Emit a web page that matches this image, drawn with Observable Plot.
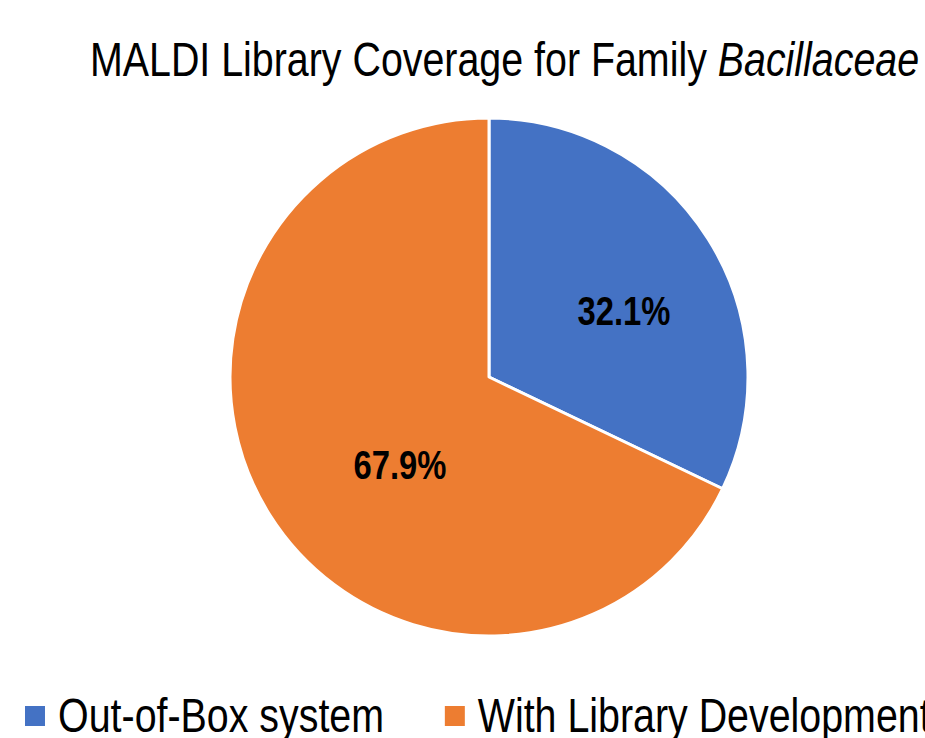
<!DOCTYPE html>
<html><head><meta charset="utf-8">
<script src="https://cdn.jsdelivr.net/npm/d3@7"></script>
<script src="https://cdn.jsdelivr.net/npm/@observablehq/plot@0.6"></script>
<style>
html,body{margin:0;padding:0;background:#fff;}
#wrap{position:relative;width:925px;height:738px;overflow:hidden;font-family:"Liberation Sans",Arial,sans-serif;color:#000;}
#title{position:absolute;left:90px;top:36px;font-size:48px;line-height:48px;white-space:nowrap;transform:scaleX(0.82);transform-origin:0 0;}
#chart{position:absolute;left:0;top:100px;}
#legend{position:absolute;left:25px;top:692px;width:1600px;transform:scaleX(0.82);transform-origin:0 0;}
#legend .lg-swatches{font-family:"Liberation Sans",Arial,sans-serif;font-size:48px;line-height:48px;margin:0;flex-wrap:nowrap;white-space:nowrap;color:#000;}
#legend .lg-swatch{margin-right:74px;}
#legend .lg-swatch > svg{margin-right:16px;}
</style>
</head><body>
<div id="wrap">
  <div id="title">MALDI Library Coverage for Family <i>Bacillaceae</i></div>
  <div id="chart"></div>
  <div id="legend"></div>
</div>
<script>
// ---- data ----
const categories = ["Out-of-Box system", "With Library Development"];
const shares = [32.1, 67.9];
const shareLabels = ["32.1%", "67.9%"];
const colors = ["#4472C4", "#ED7D31"];

const rows = categories.map((c, i) => ({cat: c, value: shares[i], label: shareLabels[i]}));

// ---- geometry (style, not data) ----
const W = 925, H = 560;
const cx = 489, cy = 277, R = 259;
const labelNudge = [[14, 11], [31, 13]];
const NARROW = 0.82;

const colorScale = Plot.scale({color: {type: "categorical", domain: categories, range: colors}});

const slices = d3.pie().value(d => d.value).sort(null)(rows);
const arc = d3.arc().innerRadius(0).outerRadius(R);
const labelArc = d3.arc().innerRadius(R * 0.55).outerRadius(R * 0.55);

slices.forEach((s, i) => {
  const [lx, ly] = labelArc.centroid(s);
  s.lx = cx + lx + labelNudge[i][0];
  s.ly = cy + ly + labelNudge[i][1];
});

function pieMark(index, scales, values, dimensions, context) {
  const g = d3.create("svg:g").attr("transform", `translate(${cx},${cy})`);
  g.selectAll("path")
    .data(slices)
    .join("path")
    .attr("d", arc)
    .attr("fill", d => colorScale.apply(d.data.cat))
    .attr("stroke", "#fff")
    .attr("stroke-width", 3)
    .attr("stroke-linejoin", "round");
  return g.node();
}

const plot = Plot.plot({
  width: W,
  height: H,
  margin: 0,
  x: {type: "identity", axis: null},
  y: {type: "identity", axis: null},
  style: {background: "transparent", overflow: "visible"},
  marks: [
    pieMark,
    Plot.text(slices, {
      x: d => d.lx,
      y: d => d.ly,
      text: d => d.data.label,
      fill: "#000",
      fontSize: 40,
      fontWeight: "bold",
      fontFamily: "'Liberation Sans',Arial,sans-serif",
      textAnchor: "middle",
      render(index, scales, values, dimensions, context, next) {
        const g = next(index, scales, values, dimensions, context);
        d3.select(g).selectAll("text").attr("transform", function() {
          const t = this.getAttribute("transform") || "";
          return `${t} scale(${NARROW},1)`;
        });
        return g;
      }
    })
  ]
});
document.getElementById("chart").appendChild(plot);

const legend = Plot.legend({
  color: {type: "categorical", domain: categories, range: colors},
  swatchWidth: 20 / NARROW,
  swatchHeight: 20,
  className: "lg"
});
document.getElementById("legend").appendChild(legend);
</script>
</body></html>
